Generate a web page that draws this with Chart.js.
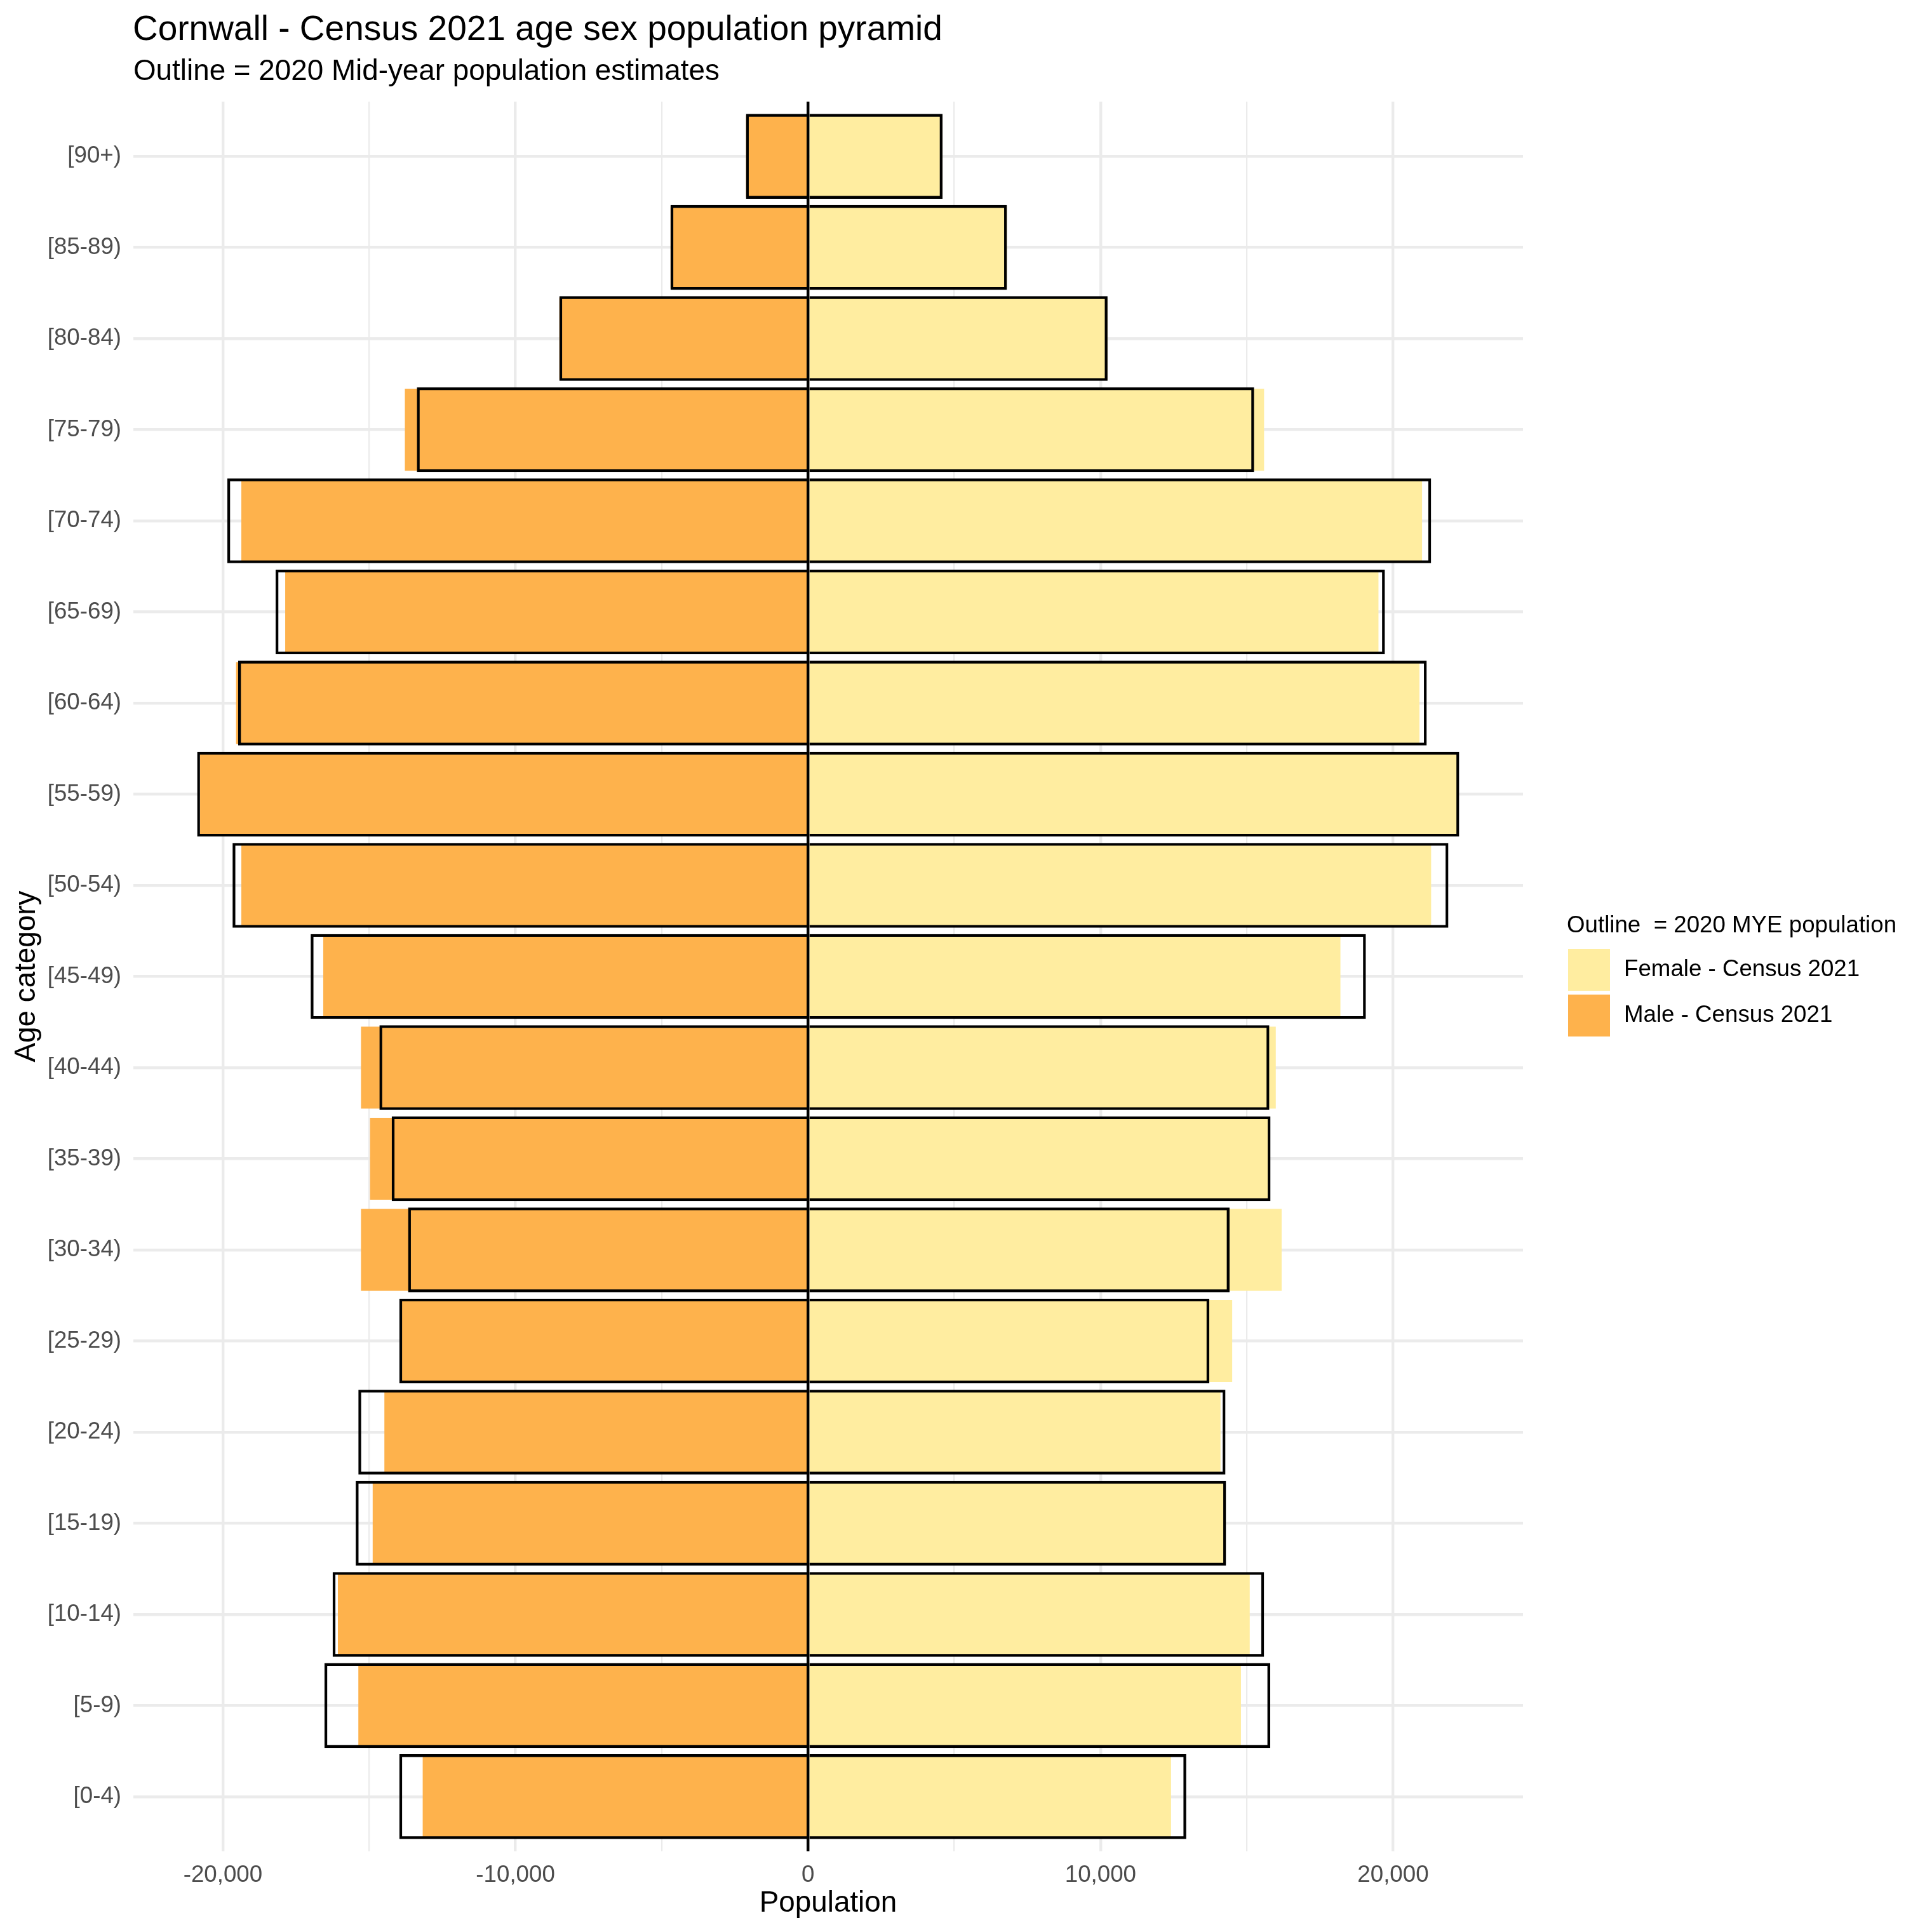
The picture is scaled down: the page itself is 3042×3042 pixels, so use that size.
<!DOCTYPE html>
<html><head><meta charset="utf-8">
<script src="https://cdn.jsdelivr.net/npm/chart.js@4.4.1/dist/chart.umd.min.js"></script>
<style>html,body{margin:0;padding:0;background:#fff}canvas{display:block}</style>
</head><body>
<canvas id="c" width="3042" height="3042" style="width:3042px;height:3042px"></canvas>
<script>
// Age categories, bottom to top
const categories = ['[0-4)','[5-9)','[10-14)','[15-19)','[20-24)','[25-29)','[30-34)','[35-39)','[40-44)','[45-49)','[50-54)','[55-59)','[60-64)','[65-69)','[70-74)','[75-79)','[80-84)','[85-89)','[90+)'];
// Census 2021 (filled bars)
const femaleCensus = [12410,14800,15100,14250,14100,14500,16190,15770,15990,18200,21300,22240,20900,19500,20990,15590,10240,6800,4600];
const maleCensus   = [13170,15370,16070,14880,14480,13950,15280,14970,15280,16570,19370,20780,19550,17870,19370,13780,8500,4700,2120];
// 2020 mid-year estimates (outlines)
const femaleMYE = [12930,15800,15590,14290,14270,13720,14410,15810,15770,19070,21890,22260,21150,19720,21300,15250,10240,6800,4600];
const maleMYE   = [13970,16530,16250,15460,15370,13970,13670,14230,14650,17000,19670,20880,19480,18200,19850,13370,8500,4700,2120];
// axis ticks
const xTickValues  = [-20000,-15000,-10000,-5000,0,5000,10000,15000,20000];
const xLabelValues = [-20000,-10000,0,10000,20000];

const FONT = "'Liberation Sans', Arial, Helvetica, sans-serif";
const FEMALE_COL = '#FFEDA0';
const MALE_COL = '#FEB24C';

const toPts = (arr, sign) => arr.map((v, i) => ({x: sign * v, y: i}));

const extras = {
  id: 'extras',
  beforeDraw(chart) {
    const ctx = chart.ctx;
    ctx.save();
    ctx.fillStyle = '#fff';
    ctx.fillRect(0, 0, chart.width, chart.height);
    ctx.restore();
  },
  afterDatasetsDraw(chart) {
    const ctx = chart.ctx, a = chart.chartArea;
    const x0 = chart.scales.x.getPixelForValue(0);
    ctx.save();
    ctx.strokeStyle = '#000';
    ctx.lineWidth = 4.4;
    ctx.beginPath();
    ctx.moveTo(x0, a.top);
    ctx.lineTo(x0, a.bottom);
    ctx.stroke();
    ctx.restore();
  },
  afterDraw(chart) {
    const ctx = chart.ctx;
    ctx.save();
    ctx.fillStyle = '#000';
    ctx.textAlign = 'left';
    ctx.textBaseline = 'alphabetic';
    ctx.font = '55px ' + FONT;
    ctx.fillText('Cornwall - Census 2021 age sex population pyramid', 209, 63);
    ctx.font = '45.8px ' + FONT;
    ctx.fillText('Outline = 2020 Mid-year population estimates', 210, 126);
    // legend
    ctx.font = '36.7px ' + FONT;
    ctx.fillText('Outline  = 2020 MYE population', 2467, 1468);
    ctx.fillStyle = FEMALE_COL;
    ctx.fillRect(2469, 1494, 66, 66);
    ctx.fillStyle = MALE_COL;
    ctx.fillRect(2469, 1566, 66, 66);
    ctx.fillStyle = '#000';
    ctx.textBaseline = 'middle';
    ctx.fillText('Female - Census 2021', 2557, 1527);
    ctx.fillText('Male - Census 2021', 2557, 1599);
    ctx.restore();
  }
};

const fillCommon = {borderWidth: 0, grouped: false, order: 2, barPercentage: 0.9, categoryPercentage: 1};
const lineCommon = {backgroundColor: 'rgba(0,0,0,0)', borderColor: '#000', borderWidth: 4.4, borderSkipped: 'start',
                    grouped: false, order: 1, barPercentage: 0.931, categoryPercentage: 1};

new Chart(document.getElementById('c'), {
  type: 'bar',
  data: {
    datasets: [
      Object.assign({label: 'Female - Census 2021', data: toPts(femaleCensus, 1), backgroundColor: FEMALE_COL}, fillCommon),
      Object.assign({label: 'Male - Census 2021', data: toPts(maleCensus, -1), backgroundColor: MALE_COL}, fillCommon),
      Object.assign({label: 'Female - 2020 MYE', data: toPts(femaleMYE, 1)}, lineCommon),
      Object.assign({label: 'Male - 2020 MYE', data: toPts(maleMYE, -1)}, lineCommon)
    ]
  },
  options: {
    indexAxis: 'y',
    responsive: false,
    animation: false,
    devicePixelRatio: 1,
    layout: {padding: {top: 160, right: 644, left: 0, bottom: 0}},
    plugins: {legend: {display: false}, tooltip: {enabled: false}, title: {display: false}},
    scales: {
      x: {
        type: 'linear', min: -23060, max: 24440,
        afterBuildTicks: s => { s.ticks = xTickValues.map(v => ({value: v})); },
        afterFit: s => { s.height = 127; },
        grid: {color: '#EBEBEB', lineWidth: c => (c.tick && c.tick.value % 10000 === 0) ? 4.4 : 2.2, drawTicks: false},
        border: {display: false},
        ticks: {
          callback: v => xLabelValues.includes(v) ? v.toLocaleString('en-US') : '',
          color: '#4D4D4D', font: {family: FONT, size: 36.7}, padding: 16, maxRotation: 0, autoSkip: false
        },
        title: {display: true, text: 'Population', color: '#000', font: {family: FONT, size: 45.8}, padding: {top: 0, bottom: 17}}
      },
      y: {
        type: 'linear', min: -0.6, max: 18.6, offset: false,
        afterBuildTicks: s => { s.ticks = categories.map((c, i) => ({value: i})); },
        afterFit: s => { s.width = 210; },
        grid: {color: '#EBEBEB', lineWidth: 4.4, drawTicks: false, offset: false},
        border: {display: false},
        ticks: {
          callback: v => categories[v],
          color: '#4D4D4D', font: {family: FONT, size: 36.7}, padding: 19, autoSkip: false
        },
        title: {display: true, text: 'Age category', color: '#000', font: {family: FONT, size: 45.8}, padding: {top: 15, bottom: 0}}
      }
    }
  },
  plugins: [extras]
});
</script>
</body></html>
